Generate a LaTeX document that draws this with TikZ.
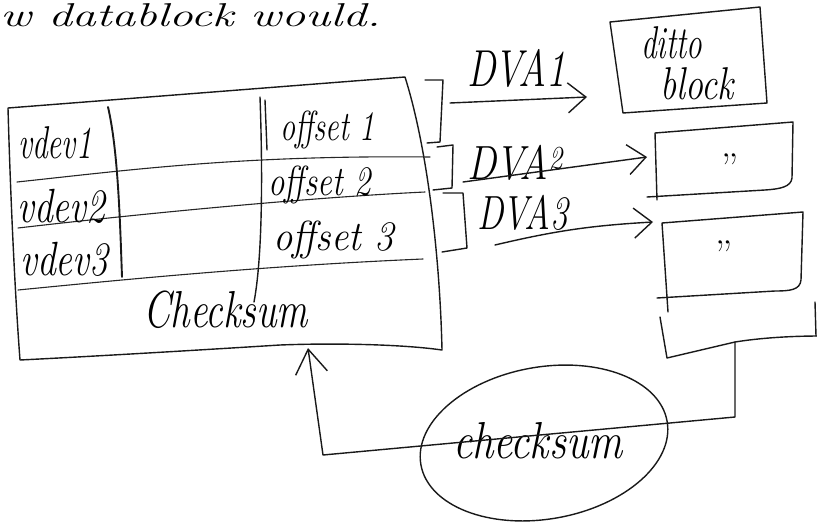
\documentclass[tikz,border=0pt]{standalone}
\usepackage{fontspec}
\usetikzlibrary{arrows.meta}
% hand-lettered label: horizontal squeeze, size, text
\newcommand\handw[3]{\scalebox{#1}[1]{\fontsize{#2}{#2}\selectfont\itshape #3}}
\begin{document}
\begin{tikzpicture}[x=1pt,y=-1pt,
  pen/.style={line width=1.4pt, line cap=round, line join=round, draw=black!90},
  thinpen/.style={line width=1.1pt, line cap=round, line join=round, draw=black!85},
  barb/.style={-{Straight Barb[length=18pt,width=30pt]}},
  upbarb/.style={-{Straight Barb[length=24pt,width=32pt]}},
  txt/.style={inner sep=0pt, anchor=base west},
  dittomark/.style={inner sep=0pt, font=\fontsize{40}{40}\selectfont}]
\useasboundingbox (0,0) rectangle (817,525);
\fill[white] (0,0) rectangle (817,525);

% heading line
\node[txt] (head) at (0,26) {\handw{1.45}{33}{w datablock would.}};

% ---- the data block ----
\coordinate (tl) at (8,108);
\coordinate (tr) at (405,77);
\coordinate (br) at (442,350);
\coordinate (bl) at (20,360);
\draw[pen] (tl) -- (tr) .. controls (428,150) and (440,260) .. (br)
  .. controls (400,344) and (330,343) .. (280,345)
  .. controls (200,350) and (100,356) .. (bl)
  .. controls (14,280) and (10,180) .. (tl) -- cycle;

% rows
\draw[thinpen] (17,182) .. controls (130,170) and (240,155) .. (430,157);
\draw[thinpen] (18,228) .. controls (130,215) and (300,198) .. (425,192);
\draw[thinpen] (18,290) .. controls (120,280) and (260,266) .. (423,259);

% columns
\draw[pen, line width=1.9pt] (108,107) .. controls (118,150) and (120,220) .. (122,277);
\draw[pen] (260,97) .. controls (263,180) and (262,260) .. (254,302);
\draw[pen] (265,100) -- (267,150);

\node[txt] (v1) at (18,158) {\handw{0.68}{46}{vdev1}};
\node[txt] (v2) at (17,222) {\handw{0.78}{48}{vdev2}};
\node[txt] (v3) at (20,275) {\handw{0.78}{48}{vdev3}};
\node[txt] (o1) at (280,140) {\handw{0.72}{42}{offset 1}};
\node[txt] (o2) at (268,195) {\handw{0.78}{42}{offset 2}};
\node[txt] (o3) at (273,250) {\handw{0.92}{42}{offset 3}};
\node[txt] (mcs) at (143,327) {\handw{0.75}{52}{Checksum}};

% brackets on the offsets
\draw[pen] (425,80) -- (443,80) -- (440,142) -- (427,143);
\draw[pen] (437,147) -- (453,145) -- (452,188) -- (433,190);
\draw[pen] (443,193) -- (463,193) -- (467,248) -- (442,252);
\coordinate (s1) at (450,103);
\coordinate (s2) at (463,182);
\coordinate (s3) at (495,245);

% ---- target blocks ----
\draw[pen] (610,22) -- (760,7) -- (767,103) -- (623,113) -- cycle;
\node[txt] (dt) at (641,58) {\handw{0.68}{46}{ditto}};
\node[txt] (bk) at (660,99) {\handw{0.78}{46}{block}};

\draw[pen] (657,200) -- (655,133) -- (793,122) -- (792,178)
  .. controls (791,187) and (780,189) .. (765,190) -- (647,197);
\node[dittomark] (d2) at (730,168) {''};

\draw[pen] (668,312) -- (662,223) -- (803,212) -- (801,280)
  .. controls (800,290) and (790,291) .. (775,291) -- (657,298);
\node[dittomark] (d3) at (724,255) {''};

\draw[pen] (660,317) -- (667,358) -- (735,342)
  .. controls (760,338) and (790,336) .. (820,336);
\draw[pen] (815,302) -- (816,336);

\coordinate (e1) at (587,97);
\coordinate (e2) at (647,157);
\coordinate (e3) at (653,222);

% DVA pointers
\node[txt] (l1) at (467,86) {\handw{0.74}{52}{DVA1}};
\node[txt] (l2) at (467,179) {\handw{0.82}{48}{DVA\textsuperscript{2}}};
\node[txt] (l3) at (477,229) {\handw{0.74}{48}{DVA3}};
\draw[pen, barb] (s1) -- (e1);
\draw[pen, barb] (s2) -- (e2);
\draw[pen, barb] (s3) to[bend left=5] (e3);

% ---- checksum feedback ----
\node[txt] (cks) at (453,458) {\handw{0.82}{52}{checksum}};
\draw[pen] [rotate around={10:(544,443)}] (544,443) ellipse [x radius=125pt, y radius=76pt];

\coordinate (b4) at (735,342);
\coordinate (k1) at (735,417);
\coordinate (k2) at (323,455);
\coordinate (mb) at (308,348);
\draw[pen, upbarb] (b4) -- (k1) -- (k2) -- (mb);
\end{tikzpicture}
\end{document}
